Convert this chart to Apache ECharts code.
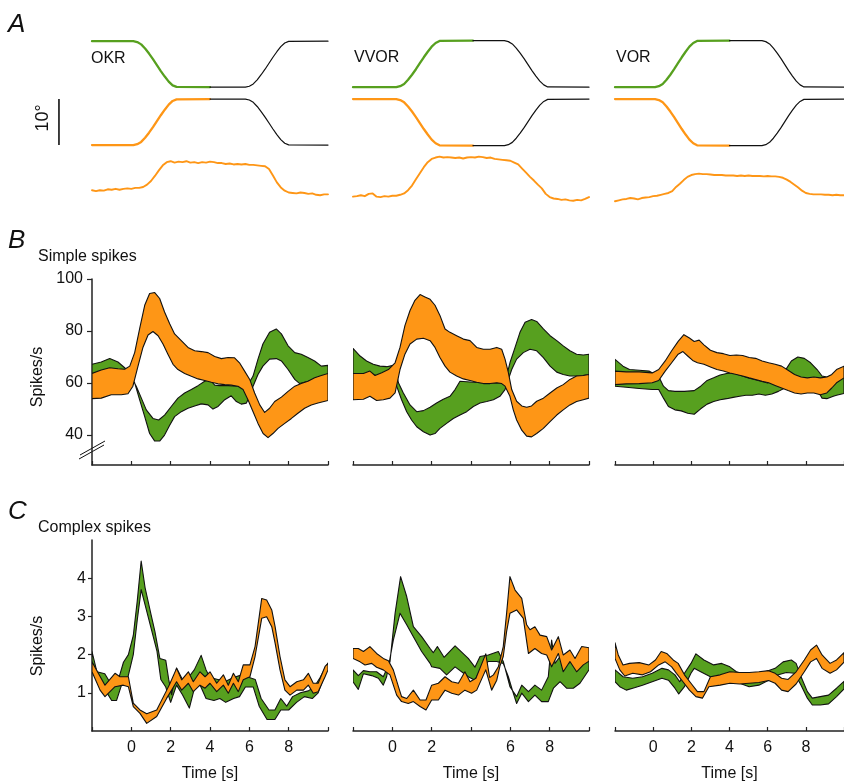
<!DOCTYPE html>
<html>
<head>
<meta charset="utf-8">
<script src="https://cdn.jsdelivr.net/npm/echarts@6/dist/echarts.min.js"></script>
<style>html,body{margin:0;padding:0;background:#fff}#c{width:844px;height:784px}</style>
</head>
<body>
<div id="c"></div>
<script>
// ---------- Panel A: position traces [time s, degrees] ----------
const okrTargetGreen = [[-2,35.4],[0.1,35.4],[0.3,35.2],[0.5,34.7],[0.7,33.8],[0.9,32.7],[1.1,31.5],[1.3,30.2],[1.5,28.9],[1.7,27.7],[1.9,26.6],[2.1,25.8],[2.3,25.45],[2.4,25.4],[4.0,25.4]];
const okrTargetBlack = [[4.0,25.4],[5.8,25.4],[6.0,25.6],[6.2,26.1],[6.4,27.0],[6.6,28.1],[6.8,29.3],[7.0,30.6],[7.2,31.9],[7.4,33.1],[7.6,34.2],[7.8,35.0],[8.0,35.35],[8.1,35.4],[10,35.4]];
const okrHeadOrange = [[-2,12.8],[0.1,12.8],[0.3,13.0],[0.5,13.5],[0.7,14.4],[0.9,15.5],[1.1,16.7],[1.3,18.0],[1.5,19.3],[1.7,20.5],[1.9,21.6],[2.1,22.4],[2.3,22.75],[2.4,22.8],[4.0,22.8]];
const okrHeadBlack = [[4.0,22.8],[5.8,22.8],[6.0,22.6],[6.2,22.1],[6.4,21.2],[6.6,20.1],[6.8,18.9],[7.0,17.6],[7.2,16.3],[7.4,15.1],[7.6,14.0],[7.8,13.2],[8.0,12.85],[8.1,12.8],[10,12.8]];
const okrEye = [[-2,3.0],[-1.8,2.8],[-1.6,3.0],[-1.4,2.9],[-1.2,3.2],[-1.0,3.1],[-0.8,3.3],[-0.6,3.1],[-0.4,3.3],[-0.2,3.4],[0,3.3],[0.2,3.5],[0.4,3.5],[0.6,3.7],[0.8,4.2],[1.0,5.0],[1.2,6.1],[1.4,7.3],[1.6,8.4],[1.8,9.1],[2.0,9.3],[2.2,9.0],[2.4,9.2],[2.6,9.1],[2.8,9.3],[3.0,9.0],[3.2,9.1],[3.4,8.9],[3.6,9.1],[3.8,9.0],[4.0,9.2],[4.2,9.1],[4.4,8.9],[4.6,8.9],[4.8,8.7],[5.0,8.8],[5.2,8.6],[5.4,8.7],[5.6,8.6],[5.8,8.7],[6.0,8.5],[6.2,8.5],[6.4,8.4],[6.6,8.3],[6.8,8.2],[7.0,7.6],[7.2,6.2],[7.4,4.7],[7.6,3.6],[7.8,2.9],[8.0,2.5],[8.2,2.4],[8.4,2.3],[8.6,2.5],[8.8,2.4],[9.0,2.2],[9.2,2.3],[9.4,2.0],[9.6,1.9],[9.8,2.1],[10,2.1]];

const vvorTargetGreen = [[-2,25.4],[0.2,25.4],[0.4,25.6],[0.6,26.1],[0.8,27.0],[1.0,28.1],[1.2,29.3],[1.4,30.6],[1.6,31.9],[1.8,33.1],[2.0,34.2],[2.2,35.0],[2.4,35.45],[2.5,35.5],[4.1,35.5]];
const vvorTargetBlack = [[4.1,35.5],[5.7,35.5],[5.9,35.3],[6.1,34.8],[6.3,33.9],[6.5,32.8],[6.7,31.6],[6.9,30.3],[7.1,29.0],[7.3,27.8],[7.5,26.7],[7.7,25.9],[7.9,25.45],[8.0,25.4],[10,25.4]];
const vvorHeadOrange = [[-2,22.8],[0.2,22.8],[0.4,22.6],[0.6,22.1],[0.8,21.2],[1.0,20.1],[1.2,18.9],[1.4,17.6],[1.6,16.3],[1.8,15.1],[2.0,14.0],[2.2,13.2],[2.4,12.75],[2.5,12.7],[4.1,12.7]];
const vvorHeadBlack = [[4.1,12.7],[5.7,12.7],[5.9,12.9],[6.1,13.4],[6.3,14.3],[6.5,15.4],[6.7,16.6],[6.9,17.9],[7.1,19.2],[7.3,20.4],[7.5,21.5],[7.7,22.3],[7.9,22.75],[8.0,22.8],[10,22.8]];
const vvorEye = [[-2,1.6],[-1.8,1.7],[-1.6,1.9],[-1.4,1.7],[-1.2,2.2],[-1.0,2.3],[-0.8,1.6],[-0.6,1.5],[-0.4,1.7],[-0.2,1.6],[0,1.8],[0.2,1.8],[0.4,2.0],[0.6,2.3],[0.8,3.0],[1.0,4.0],[1.2,5.4],[1.4,6.7],[1.6,8.0],[1.8,9.1],[2.0,9.8],[2.2,10.1],[2.4,10.3],[2.6,10.1],[2.8,10.2],[3.0,10.1],[3.2,10.0],[3.4,10.1],[3.6,9.9],[3.8,10.1],[4.0,10.2],[4.2,10.1],[4.4,10.3],[4.6,10.2],[4.8,10.0],[5.0,10.1],[5.2,9.8],[5.4,9.7],[5.6,9.6],[5.8,9.5],[6.0,9.4],[6.2,9.0],[6.4,8.6],[6.6,7.7],[6.8,6.8],[7.0,5.9],[7.2,5.1],[7.4,4.2],[7.6,3.4],[7.8,2.2],[8.0,1.5],[8.2,1.2],[8.4,1.1],[8.6,0.9],[8.8,1.0],[9.0,0.8],[9.2,0.7],[9.4,0.9],[9.6,0.8],[9.8,1.1],[10,1.5]];

const vorTargetGreen = [[-2,25.4],[0.1,25.4],[0.3,25.6],[0.5,26.1],[0.7,27.0],[0.9,28.1],[1.1,29.3],[1.3,30.6],[1.5,31.9],[1.7,33.1],[1.9,34.2],[2.1,35.0],[2.3,35.45],[2.4,35.5],[4.0,35.5]];
const vorTargetBlack = [[4.0,35.5],[5.7,35.5],[5.9,35.3],[6.1,34.8],[6.3,33.9],[6.5,32.8],[6.7,31.6],[6.9,30.3],[7.1,29.0],[7.3,27.8],[7.5,26.7],[7.7,25.9],[7.9,25.45],[8.0,25.4],[10,25.4]];
const vorHeadOrange = [[-2,22.8],[0.1,22.8],[0.3,22.6],[0.5,22.1],[0.7,21.2],[0.9,20.1],[1.1,18.9],[1.3,17.6],[1.5,16.3],[1.7,15.1],[1.9,14.0],[2.1,13.2],[2.3,12.75],[2.4,12.7],[4.0,12.7]];
const vorHeadBlack = [[4.0,12.7],[5.7,12.7],[5.9,12.9],[6.1,13.4],[6.3,14.3],[6.5,15.4],[6.7,16.6],[6.9,17.9],[7.1,19.2],[7.3,20.4],[7.5,21.5],[7.7,22.3],[7.9,22.75],[8.0,22.8],[10,22.8]];
const vorEye = [[-2,0.6],[-1.8,0.8],[-1.6,1.0],[-1.4,1.1],[-1.2,1.3],[-1.0,1.2],[-0.8,1.0],[-0.6,1.3],[-0.4,1.4],[-0.2,1.5],[0,1.7],[0.2,1.8],[0.4,2.0],[0.6,2.2],[0.8,2.4],[1.0,2.8],[1.2,3.7],[1.4,4.4],[1.6,5.2],[1.8,5.9],[2.0,6.3],[2.2,6.5],[2.4,6.6],[2.6,6.5],[2.8,6.5],[3.0,6.4],[3.2,6.3],[3.4,6.3],[3.6,6.3],[3.8,6.2],[4.0,6.2],[4.2,6.2],[4.4,6.1],[4.6,6.2],[4.8,6.1],[5.0,6.2],[5.2,6.1],[5.4,6.1],[5.6,6.1],[5.8,6.0],[6.0,6.1],[6.2,6.0],[6.4,6.0],[6.6,5.9],[6.8,5.7],[7.0,5.3],[7.2,4.8],[7.4,4.2],[7.6,3.6],[7.8,2.9],[8.0,2.4],[8.2,2.2],[8.4,2.1],[8.6,2.1],[8.8,2.1],[9.0,2.0],[9.2,2.0],[9.4,1.9],[9.6,2.0],[9.8,1.9],[10,1.9]];

const scaleBar = [[-3.68,12.8],[-3.68,22.8]]; // 10 degree scale bar, in panel A data units

// ---------- Panel B: simple spikes bands [time s, spikes/s] ----------
const okrSSGreenUp = [[-2,67.2],[-1.53,68.1],[-1.1,69.4],[-0.68,68.1],[-0.34,65.9],[-0.08,63.5],[0.25,58.8],[0.51,54.2],[0.76,49.7],[1.1,46.4],[1.39,45.8],[1.69,47.7],[2.03,51.0],[2.37,54.2],[2.71,56.2],[3.05,57.5],[3.39,59.0],[3.73,60.7],[3.98,61.4],[4.24,59.2],[4.49,59.0],[4.92,59.0],[5.42,58.8],[5.76,58.8],[6.02,60.5],[6.19,62.7],[6.44,69.2],[6.69,75.0],[7.03,79.5],[7.37,80.8],[7.63,78.9],[7.97,74.3],[8.31,71.7],[8.64,71.1],[8.98,69.8],[9.32,68.5],[9.66,66.5],[10,66.8]];
const okrSSGreenLo = [[-2,62.0],[-1.1,63.0],[-0.34,63.5],[0.0,62.0],[0.17,60.1],[0.42,53.6],[0.68,47.1],[0.93,40.6],[1.19,37.7],[1.44,37.7],[1.69,40.0],[1.95,43.8],[2.2,47.1],[2.54,49.0],[2.88,50.3],[3.22,51.2],[3.56,52.0],[3.9,51.6],[4.15,50.0],[4.41,51.0],[4.75,53.6],[5.08,55.1],[5.34,52.9],[5.59,51.9],[5.85,52.3],[6.02,54.9],[6.19,58.8],[6.44,63.3],[6.69,66.5],[7.03,69.2],[7.37,69.4],[7.63,68.5],[7.97,65.2],[8.31,61.4],[8.56,59.8],[8.98,60.7],[9.49,62.0],[10,62.9]];
const okrSSOrangeUp = [[-2,63.7],[-1.53,65.0],[-1.1,65.9],[-0.68,65.5],[-0.34,65.3],[-0.08,66.5],[0.17,71.7],[0.42,80.8],[0.68,89.9],[0.93,94.4],[1.19,94.8],[1.44,92.5],[1.69,87.3],[1.95,82.8],[2.2,78.9],[2.54,76.3],[2.88,73.7],[3.22,72.4],[3.56,72.1],[3.9,71.7],[4.24,70.2],[4.58,69.4],[4.92,69.8],[5.25,69.7],[5.5,67.8],[5.76,64.6],[6.02,61.4],[6.27,56.2],[6.53,51.6],[6.78,48.7],[7.03,50.3],[7.29,52.9],[7.63,54.6],[7.97,56.8],[8.31,58.8],[8.64,59.8],[8.98,60.7],[9.32,62.0],[9.66,62.9],[10,63.7]];
const okrSSOrangeLo = [[-2,54.0],[-1.53,54.2],[-1.02,55.5],[-0.51,55.5],[-0.17,55.9],[0.08,58.8],[0.34,66.5],[0.59,73.7],[0.85,78.5],[1.1,79.8],[1.36,78.2],[1.61,75.0],[1.86,71.1],[2.12,67.2],[2.37,65.2],[2.71,63.7],[3.05,62.6],[3.39,61.6],[3.73,61.0],[4.07,60.3],[4.41,59.7],[4.75,59.4],[5.08,59.2],[5.42,58.8],[5.68,57.5],[5.93,53.6],[6.19,49.0],[6.44,44.5],[6.7,40.6],[6.95,39.0],[7.2,40.6],[7.46,42.6],[7.8,44.5],[8.14,46.4],[8.47,48.4],[8.81,50.3],[9.15,51.6],[9.49,52.3],[10,53.3]];

const vvorSSGreenUp = [[-2,73.3],[-1.64,70.4],[-1.31,68.5],[-0.97,67.2],[-0.63,66.5],[-0.29,66.3],[0.05,66.8],[0.2,64.0],[0.31,60.1],[0.56,56.2],[0.9,51.6],[1.24,49.0],[1.58,49.4],[1.92,50.7],[2.25,52.3],[2.59,53.8],[2.93,54.9],[3.19,57.5],[3.44,60.7],[4.12,60.3],[4.8,60.0],[5.47,60.1],[5.73,59.5],[5.81,62.7],[5.98,67.8],[6.24,73.7],[6.49,79.5],[6.75,83.4],[7.08,84.4],[7.34,83.7],[7.68,80.8],[8.02,78.2],[8.36,76.3],[8.69,74.3],[9.03,72.4],[9.37,71.1],[9.71,70.8],[10,71.1]];
const vvorSSGreenLo = [[-2,63.7],[-1.31,63.7],[-0.8,62.9],[-0.29,63.7],[0.0,62.0],[0.22,58.8],[0.47,53.6],[0.73,49.0],[0.98,45.8],[1.24,43.2],[1.58,41.3],[1.92,40.0],[2.17,40.6],[2.42,42.6],[2.76,44.5],[3.1,46.4],[3.44,47.7],[3.78,49.0],[4.12,51.0],[4.46,52.3],[4.8,52.9],[5.14,53.6],[5.47,54.9],[5.73,57.5],[5.9,61.4],[6.07,65.2],[6.32,69.2],[6.66,71.7],[7.0,73.0],[7.34,72.4],[7.68,69.8],[8.02,66.5],[8.36,64.2],[8.69,63.3],[9.03,62.7],[9.54,62.7],[10,63.3]];
const vvorSSOrangeUp = [[-2,63.7],[-1.47,63.7],[-1.14,64.6],[-0.88,62.9],[-0.54,64.0],[-0.2,65.2],[0.14,67.8],[0.39,73.7],[0.64,82.1],[0.9,87.9],[1.15,91.8],[1.41,94.0],[1.66,93.1],[1.92,92.2],[2.17,89.9],[2.42,86.0],[2.68,80.8],[2.93,79.5],[3.27,78.2],[3.61,76.9],[3.95,76.3],[4.29,73.7],[4.63,73.0],[4.97,73.0],[5.31,73.7],[5.56,73.0],[5.73,69.2],[5.9,64.0],[6.07,57.5],[6.32,53.0],[6.58,51.2],[6.83,50.7],[7.08,51.2],[7.34,53.0],[7.68,54.2],[8.02,56.2],[8.36,58.1],[8.69,59.4],[9.03,61.4],[9.37,62.7],[9.71,62.9],[10,63.3]];
const vvorSSOrangeLo = [[-2,53.6],[-1.47,53.8],[-1.14,54.9],[-0.8,53.3],[-0.46,53.6],[-0.12,54.2],[0.14,56.2],[0.39,65.2],[0.64,71.1],[0.9,75.0],[1.24,76.9],[1.58,77.2],[1.92,76.3],[2.17,73.7],[2.42,69.8],[2.68,66.5],[2.93,64.2],[3.27,62.7],[3.61,61.6],[3.95,61.0],[4.29,60.3],[4.63,59.8],[4.97,59.8],[5.31,60.1],[5.56,59.8],[5.73,58.8],[5.98,54.9],[6.15,49.7],[6.32,45.8],[6.58,41.9],[6.83,39.6],[7.08,39.3],[7.34,40.6],[7.68,42.6],[8.02,45.2],[8.36,47.7],[8.69,49.7],[9.03,51.6],[9.37,52.9],[9.71,53.6],[10,54.2]];

const vorSSGreenUp = [[-2,69.1],[-1.58,66.5],[-1.24,65.2],[-0.73,64.9],[-0.22,64.6],[0.29,62.5],[0.54,58.8],[0.8,57.1],[1.14,56.8],[1.64,56.8],[2.15,57.1],[2.49,58.8],[2.83,61.0],[3.17,62.0],[3.51,63.1],[3.85,63.7],[4.19,63.9],[5.0,62.0],[6.0,60.0],[6.9,64.6],[7.24,68.5],[7.58,70.0],[7.92,69.5],[8.25,67.8],[8.59,65.2],[8.85,62.7],[9.1,62.3],[9.44,63.1],[9.61,64.0],[10,65.0]];
const vorSSGreenLo = [[-2,58.8],[-1.41,58.4],[-0.73,57.9],[-0.05,57.5],[0.29,57.5],[0.54,54.2],[0.8,51.0],[1.14,49.7],[1.47,49.3],[1.81,48.4],[2.15,48.0],[2.49,50.1],[2.83,51.9],[3.17,52.9],[3.51,53.6],[3.85,54.0],[4.19,54.5],[4.53,54.9],[4.86,55.3],[5.2,55.3],[5.54,55.8],[5.88,55.3],[6.22,55.8],[6.56,56.8],[6.9,58.1],[7.24,60.1],[7.58,61.4],[7.92,61.7],[8.25,61.4],[8.59,57.5],[8.85,54.2],[9.1,54.0],[9.44,54.9],[9.61,55.3],[10,56.0]];
const vorSSOrangeUp = [[-2,64.6],[-1.41,64.3],[-0.73,64.3],[-0.05,63.9],[0.29,65.2],[0.63,68.5],[0.97,72.4],[1.31,76.0],[1.61,78.6],[1.9,77.3],[2.15,76.0],[2.41,76.5],[2.66,74.7],[3.0,72.6],[3.34,71.7],[3.68,71.3],[4.02,70.6],[4.36,70.8],[4.69,70.6],[5.03,69.8],[5.37,69.5],[5.71,68.5],[6.05,67.8],[6.39,67.2],[6.73,66.5],[7.07,64.9],[7.41,63.3],[7.75,62.3],[8.08,62.0],[8.42,62.3],[8.76,62.0],[9.1,62.3],[9.36,63.3],[9.61,65.2],[10,66.5]];
const vorSSOrangeLo = [[-2,59.4],[-1.41,59.7],[-0.73,59.8],[-0.05,60.1],[0.29,61.0],[0.63,64.6],[0.97,67.8],[1.31,71.1],[1.56,72.1],[1.81,70.4],[2.07,68.7],[2.32,67.8],[2.66,67.2],[3.0,66.2],[3.34,65.2],[3.68,64.6],[4.02,63.9],[4.36,63.3],[4.69,62.7],[5.03,62.0],[5.37,61.4],[5.71,60.7],[6.05,60.1],[6.39,59.1],[6.73,58.1],[7.07,57.1],[7.41,56.2],[7.75,55.8],[8.08,56.2],[8.42,56.2],[8.76,55.5],[9.1,56.2],[9.36,58.1],[9.61,60.1],[10,62.0]];

// ---------- Panel C: complex spikes bands [time s, spikes/s] ----------
const okrCSGreenUp = [[-2,2.08],[-1.75,1.55],[-1.35,1.5],[-1.0,1.2],[-0.6,1.45],[-0.4,1.8],[-0.15,2.0],[0.1,2.5],[0.3,3.4],[0.5,4.45],[0.7,3.75],[1.0,3.05],[1.2,2.6],[1.45,1.9],[1.75,1.85],[1.9,1.35],[2.05,0.95],[2.3,1.65],[2.6,1.35],[2.9,1.4],[3.2,1.6],[3.55,1.98],[3.8,1.6],[4.0,1.4],[4.4,1.35],[4.8,1.3],[5.2,1.4],[5.5,1.45],[5.75,1.45],[6.0,1.4],[6.3,1.35],[6.6,0.85],[7.0,0.55],[7.3,0.55],[7.6,0.85],[7.9,0.65],[8.2,0.9],[8.6,1.0],[9.0,1.05],[9.3,1.15],[9.6,1.4],[10,1.78]];
const okrCSGreenLo = [[-2,1.75],[-1.75,1.45],[-1.3,1.05],[-1.0,0.8],[-0.75,0.8],[-0.5,1.2],[-0.2,1.35],[0.1,2.0],[0.3,2.9],[0.5,3.7],[0.7,3.3],[1.0,2.7],[1.3,2.1],[1.5,1.35],[1.75,1.15],[2.0,0.75],[2.3,1.2],[2.6,0.95],[2.95,0.6],[3.2,1.1],[3.5,1.2],[3.8,0.85],[4.2,0.8],[4.5,0.85],[4.8,0.75],[5.2,0.85],[5.5,0.9],[5.8,1.15],[6.2,1.15],[6.5,0.65],[6.9,0.3],[7.3,0.3],[7.6,0.55],[8.0,0.55],[8.4,0.75],[8.8,0.9],[9.2,0.85],[9.5,1.0],[10,1.7]];
const okrCSOrangeUp = [[-2,1.81],[-1.34,1.2],[-0.83,1.51],[-0.58,1.42],[-0.15,1.42],[0.1,0.73],[0.44,0.55],[0.78,0.45],[1.29,0.55],[1.8,1.07],[1.97,1.25],[2.3,1.64],[2.56,1.34],[2.9,1.55],[3.15,1.29],[3.49,1.55],[3.75,1.42],[4.0,1.55],[4.34,1.25],[4.68,1.47],[4.93,1.2],[5.19,1.51],[5.44,1.29],[5.69,1.73],[6.03,1.73],[6.29,2.21],[6.63,3.47],[6.88,3.43],[7.14,3.17],[7.31,2.73],[7.56,1.95],[7.81,1.34],[8.07,1.16],[8.41,1.29],[8.75,1.34],[9.0,1.51],[9.25,1.25],[9.5,1.25],[9.85,1.69],[10,1.77]];
const okrCSOrangeLo = [[-2,1.55],[-1.59,1.07],[-1.34,0.9],[-0.83,1.16],[-0.41,1.2],[-0.15,1.16],[0.1,0.64],[0.44,0.46],[0.78,0.2],[1.29,0.38],[1.8,0.86],[2.05,1.07],[2.3,1.29],[2.56,1.07],[2.9,1.25],[3.15,1.03],[3.49,1.2],[3.75,1.12],[4.0,1.25],[4.34,1.03],[4.68,1.2],[4.93,0.99],[5.19,1.25],[5.44,1.03],[5.69,1.34],[6.03,1.42],[6.29,1.95],[6.63,2.95],[6.88,2.99],[7.14,2.73],[7.31,2.3],[7.56,1.6],[7.81,1.07],[8.07,0.94],[8.41,1.07],[8.75,1.07],[9.0,1.2],[9.25,0.99],[9.5,1.03],[9.85,1.42],[10,1.6]];

const vvorCSGreenUp = [[-2,1.6],[-1.73,1.45],[-1.47,1.58],[-1.14,1.55],[-0.8,1.55],[-0.46,1.42],[-0.12,1.81],[0.14,3.08],[0.42,4.04],[0.73,3.52],[1.07,2.73],[1.49,2.47],[1.92,2.16],[2.08,2.05],[2.29,2.21],[2.63,1.93],[3.19,2.23],[3.86,1.9],[4.2,1.67],[4.46,1.95],[4.88,1.99],[5.39,2.08],[5.64,1.82],[5.98,1.16],[6.32,0.9],[6.58,1.2],[6.92,1.03],[7.25,1.2],[7.59,1.07],[7.93,1.42],[8.1,2.38],[8.27,1.77],[8.53,1.95],[8.78,1.73],[9.12,1.82],[9.54,1.77],[10,1.86]];
const vvorCSGreenLo = [[-2,1.29],[-1.73,1.09],[-1.47,1.5],[-1.05,1.45],[-0.71,1.38],[-0.46,1.2],[-0.29,1.42],[0.05,2.38],[0.39,3.08],[0.73,2.78],[1.07,2.47],[1.49,2.08],[1.92,1.77],[2.0,1.68],[2.42,1.64],[2.76,1.47],[3.19,1.68],[3.86,1.42],[4.2,1.33],[4.46,1.6],[4.88,1.82],[5.31,1.82],[5.64,1.77],[5.9,1.42],[6.15,0.99],[6.32,0.72],[6.58,0.99],[6.92,0.77],[7.25,0.94],[7.59,0.77],[7.93,0.77],[8.19,1.12],[8.53,1.29],[8.86,1.12],[9.2,1.12],[9.54,1.25],[10,1.6]];
const vvorCSOrangeUp = [[-2,2.16],[-1.73,2.16],[-1.47,2.08],[-1.14,2.21],[-0.8,2.03],[-0.46,1.9],[-0.2,1.84],[0.05,1.6],[0.31,1.16],[0.47,0.9],[0.73,0.85],[1.07,1.07],[1.41,0.81],[1.71,0.81],[2.0,1.2],[2.34,1.25],[2.68,1.42],[3.02,1.29],[3.36,1.25],[3.69,1.55],[3.95,1.29],[4.25,1.38],[4.75,2.02],[4.95,1.4],[5.14,1.47],[5.39,1.68],[5.64,2.21],[5.81,3.08],[5.98,4.04],[6.24,3.69],[6.58,3.47],[6.83,2.78],[7.0,2.65],[7.25,2.73],[7.51,2.51],[7.85,2.47],[8.1,2.12],[8.44,2.47],[8.69,1.99],[9.03,2.12],[9.29,1.9],[9.63,2.21],[10,2.18]];
const vvorCSOrangeLo = [[-2,1.9],[-1.64,1.81],[-1.39,1.73],[-1.05,1.77],[-0.8,1.67],[-0.46,1.6],[-0.12,1.47],[0.22,0.94],[0.47,0.77],[0.81,0.72],[1.07,0.77],[1.41,0.64],[1.71,0.55],[2.0,0.81],[2.34,0.81],[2.68,1.07],[3.02,0.99],[3.36,0.94],[3.69,1.07],[4.03,0.99],[4.29,1.07],[4.75,1.6],[5.05,1.07],[5.31,1.33],[5.47,1.7],[5.64,1.95],[5.81,2.6],[5.98,3.08],[6.32,3.17],[6.66,2.95],[6.92,2.03],[7.25,2.16],[7.59,2.03],[7.85,1.99],[8.1,1.68],[8.44,2.03],[8.69,1.55],[9.03,1.82],[9.37,1.55],[9.71,1.73],[10,1.83]];

const vorCSGreenUp = [[-2,1.6],[-1.58,1.42],[-1.07,1.38],[-0.56,1.42],[-0.05,1.51],[0.46,1.64],[0.8,1.6],[1.14,1.47],[1.39,1.29],[1.64,1.51],[1.98,1.77],[2.24,2.02],[2.66,1.86],[3.17,1.73],[3.59,1.77],[4.02,1.68],[4.36,1.55],[4.86,1.47],[5.37,1.51],[5.88,1.55],[6.39,1.64],[6.81,1.81],[7.24,1.86],[7.49,1.77],[7.75,1.42],[8.08,1.03],[8.34,0.86],[8.76,0.9],[9.19,0.94],[9.61,1.12],[10,1.3]];
const vorCSGreenLo = [[-2,1.29],[-1.75,1.16],[-1.41,1.07],[-1.07,1.12],[-0.56,1.2],[-0.05,1.29],[0.46,1.38],[0.8,1.33],[1.14,1.12],[1.34,0.97],[1.64,1.16],[1.98,1.51],[2.15,1.64],[2.49,1.55],[3.0,1.42],[3.51,1.42],[4.02,1.42],[4.53,1.25],[5.03,1.16],[5.54,1.2],[6.05,1.33],[6.56,1.47],[6.98,1.53],[7.41,1.51],[7.75,1.2],[8.08,0.86],[8.34,0.68],[8.76,0.68],[9.19,0.71],[9.61,0.9],[10,1.1]];
const vorCSOrangeUp = [[-2,2.31],[-1.83,1.99],[-1.58,1.73],[-1.24,1.77],[-0.73,1.79],[-0.22,1.73],[0.12,1.86],[0.42,2.08],[0.71,2.03],[1.05,1.86],[1.31,1.77],[1.64,1.47],[1.98,1.25],[2.32,1.03],[2.66,1.03],[3.0,1.42],[3.51,1.47],[4.02,1.55],[4.53,1.53],[5.03,1.53],[5.54,1.55],[6.05,1.58],[6.39,1.51],[6.73,1.38],[7.07,1.35],[7.49,1.55],[7.92,1.86],[8.25,2.12],[8.56,2.25],[8.85,1.99],[9.27,1.77],[9.61,1.86],[10,2.05]];
const vorCSOrangeLo = [[-2,1.9],[-1.75,1.6],[-1.49,1.44],[-1.07,1.51],[-0.56,1.47],[-0.14,1.55],[0.29,1.73],[0.63,1.81],[0.97,1.68],[1.22,1.51],[1.56,1.29],[1.9,1.07],[2.24,0.9],[2.58,0.86],[2.92,1.16],[3.51,1.2],[4.02,1.25],[4.53,1.23],[5.03,1.25],[5.54,1.27],[6.05,1.32],[6.39,1.25],[6.73,1.07],[7.07,1.03],[7.49,1.23],[7.92,1.55],[8.25,1.81],[8.56,1.9],[8.85,1.64],[9.27,1.51],[9.61,1.6],[10,1.8]];

// ---------- axis tick labels ----------
const ssTicks = [40, 60, 80, 100];
const csTicks = [1, 2, 3, 4];
const timeTicksA = [0, 2, 4, 6, 8];
const timeTicksB = [0, 2, 6, 8];
const conditions = ['OKR', 'VVOR', 'VOR'];

// ---------- styling / layout ----------
const GREEN = '#57a01f', ORANGE = '#fe9616', INK = '#111';
const FONT = "'Liberation Sans', Arial, Helvetica, sans-serif";
const LEFTS = [92, 353, 615], W = 236;

const grids = [], xAxes = [], yAxes = [];
for (let r = 0; r < 3; r++) {
  for (let c = 0; c < 3; c++) {
    const top = [20, 279, 540][r], h = [184, 186, 191][r];
    grids.push({left: LEFTS[c], top: top, width: W, height: h, containLabel: false});
    const gi = r * 3 + c;
    xAxes.push({
      gridIndex: gi, type: 'value', min: -2, max: 10, interval: 2, show: r > 0,
      axisLine: {show: true, onZero: false, lineStyle: {color: '#222', width: 1.5}},
      axisTick: {show: true, inside: true, length: 4, lineStyle: {color: '#222', width: 1.2}},
      axisLabel: r === 2 ? {show: true, customValues: c === 1 ? timeTicksB : timeTicksA, margin: 9, fontSize: 16, color: INK, fontFamily: FONT} : {show: false},
      splitLine: {show: false},
      name: r === 2 ? 'Time [s]' : '', nameLocation: 'middle', nameGap: 35,
      nameTextStyle: {fontSize: 16, color: INK, fontFamily: FONT}
    });
    if (r === 0) {
      yAxes.push({gridIndex: gi, type: 'value', min: 0, max: 40, show: false});
    } else if (r === 1) {
      yAxes.push({
        gridIndex: gi, type: 'value', min: 28.5, max: 100, show: c === 0,
        axisLine: {show: true, onZero: false, lineStyle: {color: '#222', width: 1.5}},
        axisTick: {show: true, customValues: ssTicks, length: 5, lineStyle: {color: '#222', width: 1.2}},
        axisLabel: {show: true, customValues: ssTicks, margin: 9, fontSize: 16, color: INK, fontFamily: FONT},
        splitLine: {show: false}
      });
    } else {
      yAxes.push({
        gridIndex: gi, type: 'value', min: 0, max: 5, show: c === 0,
        axisLine: {show: true, onZero: false, lineStyle: {color: '#222', width: 1.5}},
        axisTick: {show: true, customValues: csTicks, length: 4, lineStyle: {color: '#222', width: 1.2}},
        axisLabel: {show: true, customValues: csTicks, margin: 6, fontSize: 16, color: INK, fontFamily: FONT},
        splitLine: {show: false}
      });
    }
  }
}

function trace(gi, data, color, width) {
  return {
    type: 'line', xAxisIndex: gi, yAxisIndex: gi, data: data, showSymbol: false, symbol: 'none',
    smooth: false, lineStyle: {color: color, width: width, join: 'round', cap: 'round'}, silent: true, animation: false
  };
}
function band(gi, up, lo, color) {
  return {
    type: 'custom', xAxisIndex: gi, yAxisIndex: gi, data: [[0, 50]], silent: true, animation: false, clip: true,
    renderItem: function (params, api) {
      const pts = [];
      for (let i = 0; i < up.length; i++) pts.push(api.coord(up[i]));
      for (let i = lo.length - 1; i >= 0; i--) pts.push(api.coord(lo[i]));
      return {type: 'polygon', shape: {points: pts}, style: {fill: color, stroke: '#111', lineWidth: 1.1, lineJoin: 'round'}};
    }
  };
}

const series = [
  trace(0, okrTargetGreen, GREEN, 2.3), trace(0, okrTargetBlack, '#111', 1.2),
  trace(0, okrHeadOrange, ORANGE, 2.3), trace(0, okrHeadBlack, '#111', 1.2),
  trace(0, okrEye, ORANGE, 1.9),
  trace(1, vvorTargetGreen, GREEN, 2.3), trace(1, vvorTargetBlack, '#111', 1.2),
  trace(1, vvorHeadOrange, ORANGE, 2.3), trace(1, vvorHeadBlack, '#111', 1.2),
  trace(1, vvorEye, ORANGE, 1.9),
  trace(2, vorTargetGreen, GREEN, 2.3), trace(2, vorTargetBlack, '#111', 1.2),
  trace(2, vorHeadOrange, ORANGE, 2.3), trace(2, vorHeadBlack, '#111', 1.2),
  trace(2, vorEye, ORANGE, 1.9),
  band(3, okrSSGreenUp, okrSSGreenLo, GREEN), band(3, okrSSOrangeUp, okrSSOrangeLo, ORANGE),
  band(4, vvorSSGreenUp, vvorSSGreenLo, GREEN), band(4, vvorSSOrangeUp, vvorSSOrangeLo, ORANGE),
  band(5, vorSSGreenUp, vorSSGreenLo, GREEN), band(5, vorSSOrangeUp, vorSSOrangeLo, ORANGE),
  band(6, okrCSGreenUp, okrCSGreenLo, GREEN), band(6, okrCSOrangeUp, okrCSOrangeLo, ORANGE),
  band(7, vvorCSGreenUp, vvorCSGreenLo, GREEN), band(7, vvorCSOrangeUp, vvorCSOrangeLo, ORANGE),
  band(8, vorCSGreenUp, vorCSGreenLo, GREEN), band(8, vorCSOrangeUp, vorCSOrangeLo, ORANGE)
];

function txt(x, y, text, size, opts) {
  return Object.assign({
    type: 'text', x: x, y: y, silent: true,
    style: Object.assign({text: text, font: size + 'px ' + FONT, fill: INK, textAlign: 'left', textVerticalAlign: 'middle'}, (opts && opts.style) || {})
  }, (opts && opts.el) || {});
}

const graphic = [
  txt(8, 25, 'A', 26, {style: {font: 'italic 26px ' + FONT}}),
  txt(8, 241, 'B', 26, {style: {font: 'italic 26px ' + FONT}}),
  txt(8, 512, 'C', 26, {style: {font: 'italic 26px ' + FONT}}),
  txt(91, 59, conditions[0], 16),
  txt(354, 58, conditions[1], 16),
  txt(616, 58, conditions[2], 16),
  txt(43, 118, '10°', 18, {style: {textAlign: 'center'}, el: {rotation: Math.PI / 2}}),
  txt(38, 257, 'Simple spikes', 16),
  txt(38, 528, 'Complex spikes', 16),
  txt(38, 377, 'Spikes/s', 16, {style: {textAlign: 'center'}, el: {rotation: Math.PI / 2}}),
  txt(38, 646, 'Spikes/s', 16, {style: {textAlign: 'center'}, el: {rotation: Math.PI / 2}}),
  {type: 'line', silent: true, shape: {x1: 79, y1: 459, x2: 104, y2: 445}, style: {stroke: '#111', lineWidth: 1}},
  {type: 'line', silent: true, shape: {x1: 80, y1: 455, x2: 105, y2: 441}, style: {stroke: '#111', lineWidth: 1}}
];

const chart = echarts.init(document.getElementById('c'), null, {renderer: 'canvas', width: 844, height: 784});
chart.setOption({
  animation: false,
  backgroundColor: '#fff',
  grid: grids, xAxis: xAxes, yAxis: yAxes, series: series, graphic: graphic
});
// 10-degree scale bar positioned through panel A's own axes
const p0 = chart.convertToPixel({xAxisIndex: 0, yAxisIndex: 0}, scaleBar[0]);
const p1 = chart.convertToPixel({xAxisIndex: 0, yAxisIndex: 0}, scaleBar[1]);
graphic.push({type: 'line', silent: true, shape: {x1: p0[0], y1: p0[1], x2: p1[0], y2: p1[1]}, style: {stroke: '#111', lineWidth: 1.6}});
chart.setOption({graphic: graphic});
</script>
</body>
</html>
